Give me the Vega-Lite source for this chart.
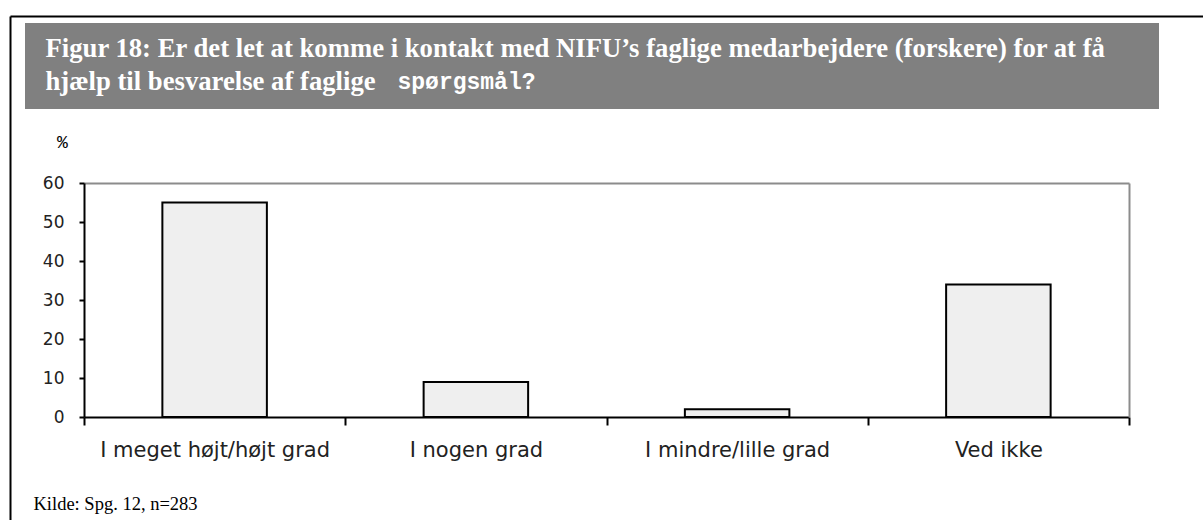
{
  "$schema": "https://vega.github.io/schema/vega-lite/v6.json",
  "background": "#ffffff",
  "padding": {"left": 10, "top": 16, "right": 0, "bottom": 0},
  "data": {"values": [
    {"cat": "I meget højt/højt grad", "pct": 55},
    {"cat": "I nogen grad", "pct": 9},
    {"cat": "I mindre/lille grad", "pct": 2},
    {"cat": "Ved ikke", "pct": 34}
  ]},
  "bounds": "flush",
  "spacing": 14,
  "hconcat": [
    {
      "width": 1,
      "height": 520,
      "view": {"stroke": null, "fill": null},
      "mark": {"type": "text", "opacity": 0},
      "encoding": {
        "x": {"field": "pct", "type": "quantitative", "scale": {"range": [0, 1250], "domain": [0, 60], "nice": false},
          "axis": {"orient": "top", "labels": false, "ticks": false, "grid": false, "title": null,
            "domainColor": "#000000", "domainWidth": 2, "offset": 7}},
        "y": {"field": "pct", "type": "quantitative", "scale": {"range": [520, -7], "domain": [0, 60], "nice": false},
          "axis": {"orient": "left", "labels": false, "ticks": false, "grid": false, "title": null,
            "domainColor": "#000000", "domainWidth": 2}},
        "text": {"value": ""}
      }
    },
    {
      "spacing": 22,
      "vconcat": [
        {
          "width": 1134,
          "height": 86,
          "view": {"fill": "#808080", "stroke": null},
          "mark": {"type": "text", "opacity": 0},
          "encoding": {
            "x": {"field": "cat", "type": "nominal", "sort": null,
              "axis": {"labels": false, "ticks": false, "domain": false, "grid": false,
                "title": ["Figur 18: Er det let at komme i kontakt med NIFU’s faglige medarbejdere (forskere) for at få", "hjælp til besvarelse af faglige"],
                "titleX": 20, "titleY": -53, "titleAlign": "left", "titleAnchor": "start",
                "titleBaseline": "alphabetic", "titleLineHeight": 33, "titleFont": "Liberation Serif", "titleFontSize": 26.7,
                "titleFontWeight": "bold", "titleColor": "#ffffff"}},
            "y": {"field": "pct", "type": "quantitative",
              "axis": {"labels": false, "ticks": false, "domain": false, "grid": false,
                "title": "spørgsmål?", "titleAngle": 0, "titleX": 372, "titleY": 65, "titleAlign": "left", "titleAnchor": "start",
                "titleBaseline": "alphabetic", "titleFont": "Liberation Mono", "titleFontSize": 23,
                "titleFontWeight": "bold", "titleColor": "#ffffff"}},
            "text": {"value": ""}
          }
        },
        {
          "width": 1104,
          "height": 234,
          "view": {"stroke": null, "fill": null},
          "layer": [
            {
              "mark": {"type": "bar", "fill": "#efefef", "stroke": "#000000", "strokeWidth": 2, "width": {"band": 0.4}},
              "encoding": {
                "x": {"field": "cat", "type": "nominal", "sort": null,
                  "scale": {"range": [59, 1104], "paddingInner": 0, "paddingOuter": 0},
                  "axis": {"orient": "bottom", "labelAngle": 0, "labelFont": "DejaVu Sans", "labelFontSize": 21, "labelColor": "#222222",
                    "labelPadding": 14, "labelLimit": 400, "tickBand": "extent", "tickSize": 8, "tickWidth": 2, "tickColor": "#000000",
                    "domainColor": "#000000", "domainWidth": 2, "grid": false,
                    "title": "Kilde: Spg. 12, n=283", "titleFont": "Liberation Serif", "titleFontSize": 18.5,
                    "titleFontWeight": "normal", "titleColor": "#000000", "titleX": 8, "titleY": 92,
                    "titleAlign": "left", "titleAnchor": "start", "titleBaseline": "alphabetic"}},
                "y": {"field": "pct", "type": "quantitative",
                  "scale": {"domain": [0, 60], "nice": false},
                  "axis": {"orient": "left", "offset": -59, "values": [0, 10, 20, 30, 40, 50, 60], "tickSize": 5, "tickWidth": 2, "tickColor": "#000000",
                    "domainColor": "#000000", "domainWidth": 2, "grid": false,
                    "labelFont": "DejaVu Sans", "labelFontSize": 17, "labelColor": "#222222", "labelPadding": 15,
                    "title": "%", "titleAngle": 0, "titleX": -22, "titleY": -41, "titleAlign": "center",
                    "titleBaseline": "middle", "titleFont": "Liberation Mono", "titleFontSize": 18,
                    "titleFontWeight": "normal", "titleColor": "#000000"}}
              }
            },
            {
              "mark": {"type": "bar", "opacity": 0, "width": {"band": 0.4}},
              "encoding": {
                "x": {"field": "cat", "type": "nominal", "sort": null,
                  "axis": {"orient": "top", "labels": false, "ticks": false, "grid": false, "title": null,
                    "domainColor": "#8c8c8c", "domainWidth": 2}},
                "y": {"field": "pct", "type": "quantitative",
                  "axis": {"orient": "right", "labels": false, "ticks": false, "grid": false, "title": null,
                    "domainColor": "#8c8c8c", "domainWidth": 2}}
              }
            }
          ],
          "resolve": {"axis": {"x": "independent", "y": "independent"}}
        }
      ]
    }
  ]
}
